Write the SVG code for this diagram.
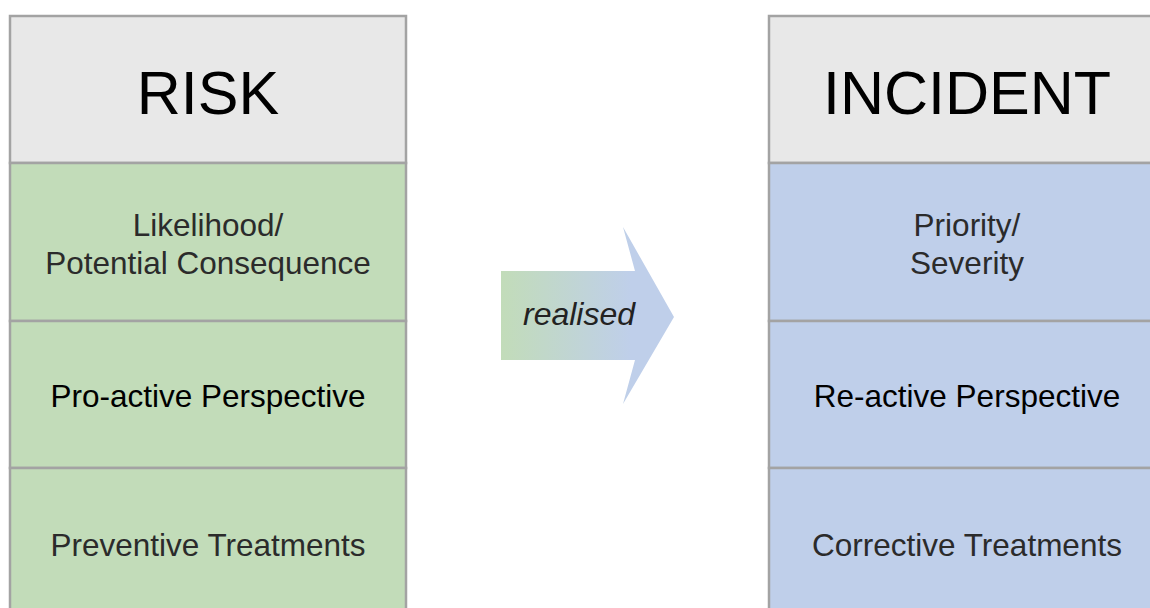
<svg xmlns="http://www.w3.org/2000/svg" width="1150" height="608" viewBox="0 0 1150 608">
<style>
.cell{stroke:#a3a3a3;stroke-width:2.5}
.hdr{fill:#e8e8e8}
.g{fill:#c2dcb9}
.b{fill:#bfcfea}
.h{font-family:"Liberation Sans",Arial,sans-serif;font-size:61px;fill:#000;text-anchor:middle}
.t{font-family:"Liberation Sans",Arial,sans-serif;font-size:31.5px;fill:#2b2b2b;text-anchor:middle}
.k{fill:#000}
.lbl{font-family:"Liberation Sans",Arial,sans-serif;font-size:32px;font-style:italic;fill:#222;text-anchor:middle}
</style>
<defs>
<linearGradient id="grad" x1="501" y1="0" x2="674" y2="0" gradientUnits="userSpaceOnUse">
<stop offset="0" stop-color="#c2dcb9"/>
<stop offset="0.75" stop-color="#bfcfea"/>
<stop offset="1" stop-color="#bfcfea"/>
</linearGradient>
</defs>
<rect width="1150" height="608" fill="#fff"/>
<g id="risk">
<rect class="cell hdr" x="10" y="16" width="396" height="147"/>
<text class="h" x="208" y="114">RISK</text>
</g>
<g id="likelihood">
<rect class="cell g" x="10" y="163" width="396" height="158"/>
<text class="t" x="208" y="236">Likelihood/</text>
<text class="t" x="208" y="274">Potential Consequence</text>
</g>
<g id="proactive">
<rect class="cell g" x="10" y="321" width="396" height="147"/>
<text class="t k" x="208" y="407">Pro-active Perspective</text>
</g>
<g id="preventive">
<rect class="cell g" x="10" y="468" width="396" height="150"/>
<text class="t" x="208" y="556">Preventive Treatments</text>
</g>
<g id="incident">
<rect class="cell hdr" x="769" y="16" width="396" height="147"/>
<text class="h" x="967" y="114">INCIDENT</text>
</g>
<g id="priority">
<rect class="cell b" x="769" y="163" width="396" height="158"/>
<text class="t" x="967" y="236">Priority/</text>
<text class="t" x="967" y="274">Severity</text>
</g>
<g id="reactive">
<rect class="cell b" x="769" y="321" width="396" height="147"/>
<text class="t k" x="967" y="407">Re-active Perspective</text>
</g>
<g id="corrective">
<rect class="cell b" x="769" y="468" width="396" height="150"/>
<text class="t" x="967" y="556">Corrective Treatments</text>
</g>
<g id="connectors">
<polygon points="501,271 635,271 623,227 674,317 623,404 635,360 501,360" fill="url(#grad)"/>
<text class="lbl" x="579" y="325">realised</text>
</g>
</svg>
